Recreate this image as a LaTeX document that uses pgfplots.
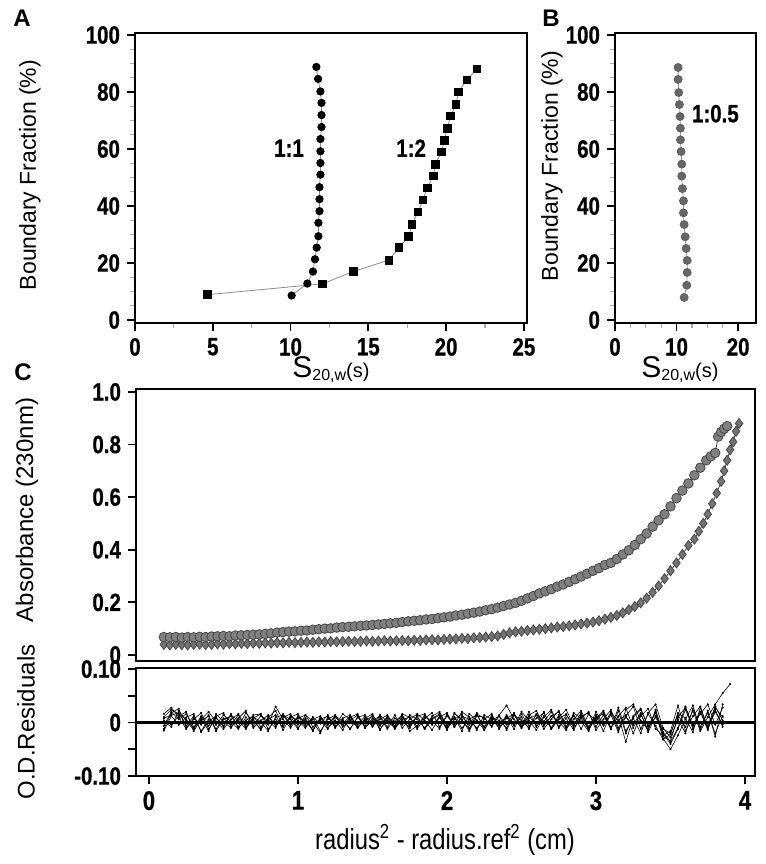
\documentclass[border=0pt]{standalone}
\usepackage{fontspec}
\setmainfont{Liberation Sans}
\newfontfamily\narrowfont[FakeStretch=0.82]{Liberation Sans}
\newfontfamily\heavyfont[FakeStretch=0.82,FakeBold=0.6]{Liberation Sans Bold}
\usepackage{pgfplots}
\usepackage{pgfplotstable}
\pgfplotsset{compat=1.18}

\pgfplotstableread{
x c1 c2 c3 c4 c5 c6 c7 c8
0.10 0.010 -0.012 0.004 -0.015 0.016 0.002 -0.006 0.008
0.15 0.024 0.018 -0.004 0.012 0.028 -0.008 0.020 0.014
0.20 0.016 0.026 0.012 -0.004 0.010 0.022 0.006 0.018
0.25 0.006 -0.010 0.020 0.010 -0.012 0.004 0.016 -0.006
0.30 -0.010 0.008 -0.016 0.016 0.006 -0.014 -0.008 0.012
0.35 0.012 -0.004 0.006 -0.018 0.018 0.010 0.004 -0.016
0.40 -0.006 0.014 0.020 0.002 -0.012 -0.016 0.012 0.006
0.45 0.010 -0.016 0.002 0.012 0.008 0.016 -0.012 -0.004
0.50 -0.008 0.006 -0.012 0.018 -0.006 0.002 0.008 0.014
0.55 0.014 0.012 0.006 -0.008 0.016 -0.010 -0.004 0.002
0.60 0.004 -0.008 0.016 0.008 -0.010 0.008 0.014 -0.012
0.65 -0.012 0.018 -0.010 0.022 0.004 -0.004 -0.008 0.010
0.70 0.008 0.002 0.010 -0.010 0.012 0.014 0.006 -0.006
0.75 0.016 -0.012 0.002 0.004 -0.008 0.016 -0.014 0.012
0.80 -0.004 0.010 -0.016 0.014 0.006 -0.012 0.010 0.004
0.85 0.030 -0.004 0.010 -0.006 0.014 0.006 0.022 -0.010
0.90 0.006 0.014 0.014 0.010 -0.014 -0.008 -0.006 0.016
0.95 -0.010 0.006 -0.006 0.016 0.010 0.012 0.012 -0.004
1.00 0.010 -0.012 0.012 -0.004 0.016 0.004 -0.010 0.008
1.05 0.002 0.014 -0.008 0.008 -0.004 -0.010 0.006 0.014
1.10 -0.014 0.002 0.006 -0.014 0.010 0.010 -0.016 -0.008
1.15 0.008 -0.020 0.012 0.006 -0.016 -0.002 0.010 0.004
1.20 -0.004 0.010 -0.010 0.012 0.006 0.014 -0.004 -0.012
1.25 0.012 -0.006 0.004 -0.010 0.014 -0.008 0.012 0.010
1.30 0.004 0.016 -0.014 0.008 -0.006 0.006 -0.008 -0.002
1.35 -0.012 0.006 0.010 0.014 0.010 -0.012 0.004 0.012
1.40 0.010 -0.010 -0.004 -0.008 0.016 0.010 0.014 -0.010
1.45 0.014 0.008 0.012 0.004 -0.010 -0.006 -0.010 0.006
1.50 -0.006 0.016 -0.008 0.012 0.004 0.014 0.008 -0.006
1.55 0.006 -0.012 0.010 -0.014 0.012 -0.004 -0.006 0.014
1.60 0.014 0.004 -0.012 0.010 -0.008 0.008 0.012 0.002
1.65 -0.008 -0.006 0.008 0.002 0.014 -0.010 -0.012 -0.010
1.70 0.004 0.016 -0.004 0.014 -0.010 0.012 0.006 0.010
1.75 -0.010 0.010 0.014 -0.008 0.006 -0.016 0.010 -0.004
1.80 0.012 -0.012 0.006 0.012 0.016 -0.006 -0.008 0.012
1.85 0.016 0.008 -0.010 -0.012 0.004 0.010 0.014 -0.012
1.90 -0.004 0.018 0.012 0.006 -0.014 0.004 -0.004 0.008
1.95 0.010 -0.008 0.020 0.014 0.010 -0.012 0.010 0.016
2.00 -0.014 0.012 -0.006 -0.010 0.018 0.016 -0.012 -0.006
2.05 0.016 -0.004 0.010 0.018 -0.008 -0.008 0.006 0.010
2.10 0.006 0.020 -0.016 0.004 0.012 0.010 0.016 -0.010
2.15 -0.016 0.010 0.016 -0.012 0.006 -0.004 -0.010 0.006
2.20 0.012 -0.014 0.004 0.016 -0.010 0.018 0.004 0.014
2.25 0.010 0.014 -0.014 0.008 0.006 -0.014 -0.008 -0.008
2.30 -0.008 0.006 0.012 -0.006 0.016 0.008 0.012 0.004
2.35 0.014 -0.010 -0.004 0.012 -0.012 0.004 -0.006 0.012
2.40 0.032 0.012 0.010 -0.014 0.008 -0.010 0.014 -0.004
2.45 0.006 -0.006 -0.012 0.014 0.016 0.014 -0.004 0.018
2.50 -0.010 0.020 0.016 0.004 -0.008 -0.006 0.010 -0.010
2.55 0.014 0.004 -0.006 -0.010 0.012 0.020 -0.012 0.008
2.60 0.022 -0.014 0.008 0.016 -0.006 -0.008 0.016 0.014
2.65 -0.006 0.010 0.018 -0.006 0.020 0.012 0.002 -0.012
2.70 0.012 0.024 -0.010 0.012 -0.012 -0.012 0.020 0.006
2.75 0.002 -0.008 0.014 0.020 0.010 0.006 -0.010 0.022
2.80 -0.014 0.014 -0.012 -0.008 0.024 0.016 0.008 -0.008
2.85 0.018 -0.004 0.006 0.014 -0.006 -0.010 -0.014 0.012
2.90 0.008 0.018 0.022 -0.012 0.014 0.008 0.012 0.002
2.95 -0.012 -0.012 -0.008 0.016 -0.014 0.020 0.018 -0.016
3.00 0.020 0.008 0.012 0.004 0.010 -0.014 -0.008 0.014
3.05 -0.004 0.022 -0.016 0.020 0.016 0.006 0.014 -0.006
3.10 0.014 -0.010 0.018 -0.010 -0.012 0.024 -0.012 0.020
3.15 -0.018 0.012 0.004 0.012 0.028 -0.010 0.022 -0.014
3.20 0.024 -0.036 0.014 0.028 -0.016 0.012 -0.020 0.010
3.25 0.034 0.010 -0.020 -0.010 0.008 0.030 0.012 -0.004
3.30 0.004 0.024 0.012 0.016 -0.020 -0.012 0.026 0.018
3.35 -0.014 -0.006 0.026 -0.014 0.018 0.016 -0.008 -0.018
3.40 0.022 0.018 -0.012 0.024 0.034 -0.006 0.010 0.012
3.45 -0.026 -0.030 -0.024 -0.020 -0.010 -0.032 -0.018 -0.012
3.50 -0.034 -0.050 -0.016 -0.040 -0.028 -0.022 -0.036 -0.020
3.55 0.010 -0.024 0.032 -0.012 0.006 0.018 -0.010 0.014
3.60 0.028 0.006 -0.016 0.024 -0.020 0.008 0.030 -0.008
3.65 -0.012 0.032 0.012 -0.006 0.026 -0.018 -0.006 0.022
3.70 0.020 -0.014 0.030 0.016 -0.008 0.028 0.020 -0.016
3.75 -0.006 0.022 -0.010 0.034 0.018 -0.012 -0.014 0.010
3.80 0.030 -0.026 0.024 -0.004 -0.020 0.020 0.028 0.034
3.85 0.004 0.034 -0.008 0.028 0.012 -0.004 0.010 0.055
3.90 nan nan nan nan nan nan nan 0.072
}\resid

\pgfplotstableread{
x y
0.10 0.068
0.14 0.067
0.18 0.068
0.22 0.066
0.26 0.068
0.30 0.067
0.34 0.069
0.38 0.068
0.42 0.070
0.46 0.071
0.50 0.072
0.54 0.071
0.58 0.074
0.62 0.075
0.66 0.076
0.70 0.077
0.74 0.078
0.78 0.080
0.82 0.082
0.86 0.085
0.90 0.087
0.94 0.089
0.98 0.090
1.02 0.092
1.06 0.093
1.10 0.096
1.14 0.098
1.18 0.100
1.22 0.101
1.26 0.104
1.30 0.106
1.34 0.107
1.38 0.109
1.42 0.111
1.46 0.112
1.50 0.114
1.54 0.116
1.58 0.118
1.62 0.120
1.66 0.122
1.70 0.125
1.74 0.128
1.78 0.130
1.82 0.132
1.86 0.135
1.90 0.137
1.94 0.140
1.98 0.143
2.02 0.146
2.06 0.150
2.10 0.153
2.14 0.157
2.18 0.161
2.22 0.165
2.26 0.170
2.30 0.174
2.34 0.180
2.38 0.186
2.42 0.192
2.46 0.198
2.50 0.206
2.54 0.215
2.58 0.224
2.62 0.234
2.66 0.242
2.70 0.250
2.74 0.260
2.78 0.268
2.82 0.278
2.86 0.288
2.90 0.298
2.94 0.309
2.98 0.320
3.02 0.330
3.06 0.342
3.10 0.350
3.14 0.365
3.18 0.382
3.22 0.398
3.26 0.418
3.30 0.440
3.34 0.462
3.38 0.488
3.42 0.512
3.46 0.535
3.50 0.565
3.54 0.596
3.58 0.625
3.62 0.652
3.66 0.683
3.70 0.712
3.74 0.740
3.77 0.755
3.80 0.768
3.82 0.830
3.84 0.848
3.86 0.860
3.88 0.870
}\circdata

\pgfplotstableread{
x y
0.10 0.040
0.14 0.038
0.18 0.040
0.22 0.039
0.26 0.038
0.30 0.040
0.34 0.041
0.38 0.039
0.42 0.040
0.46 0.042
0.50 0.041
0.54 0.043
0.58 0.042
0.62 0.044
0.66 0.043
0.70 0.045
0.74 0.044
0.78 0.046
0.82 0.045
0.86 0.047
0.90 0.046
0.94 0.048
0.98 0.047
1.02 0.048
1.06 0.049
1.10 0.048
1.14 0.050
1.18 0.049
1.22 0.051
1.26 0.050
1.30 0.051
1.34 0.052
1.38 0.051
1.42 0.052
1.46 0.053
1.50 0.052
1.54 0.053
1.58 0.054
1.62 0.053
1.66 0.054
1.70 0.055
1.74 0.054
1.78 0.056
1.82 0.055
1.86 0.057
1.90 0.058
1.94 0.057
1.98 0.059
2.02 0.060
2.06 0.061
2.10 0.063
2.14 0.062
2.18 0.065
2.22 0.066
2.26 0.068
2.30 0.070
2.34 0.072
2.38 0.078
2.42 0.084
2.46 0.088
2.50 0.090
2.54 0.093
2.58 0.095
2.62 0.098
2.66 0.100
2.70 0.103
2.74 0.106
2.78 0.108
2.82 0.111
2.86 0.114
2.90 0.118
2.94 0.121
2.98 0.125
3.02 0.130
3.06 0.136
3.10 0.143
3.14 0.150
3.18 0.160
3.22 0.172
3.26 0.184
3.30 0.198
3.34 0.216
3.38 0.238
3.42 0.262
3.46 0.290
3.50 0.320
3.54 0.350
3.58 0.382
3.62 0.416
3.66 0.440
3.69 0.470
3.72 0.500
3.75 0.535
3.78 0.575
3.81 0.615
3.84 0.660
3.86 0.700
3.88 0.740
3.90 0.780
3.92 0.810
3.94 0.850
3.96 0.880
}\diamdata

\pgfplotsset{
  panel/.style={
    scale only axis,
    axis line style={line width=1.1pt},
    tick align=outside,
    xtick pos=left, ytick pos=left,
    major tick length=4pt, minor tick length=2.5pt,
    major tick style={black, line width=0.9pt},
    minor tick style={black!35, line width=0.6pt},
    tick label style={font=\heavyfont\fontsize{12.5}{12.5}\selectfont},
    /pgf/number format/assume math mode=true,
    clip=false,
  },
}

\begin{document}
\begin{tikzpicture}
\useasboundingbox (0,0) rectangle (383pt,-432pt);

% ---------------- Panel A ----------------
\begin{axis}[panel,
  at={(67.5pt,-16.5pt)}, anchor=north west,
  width=196pt, height=145pt,
  xmin=0, xmax=25.2, ymin=-1.05, ymax=100.7,
  xtick={0,5,10,15,20,25}, xticklabels={0,5,10,15,20,25},
  ytick={0,20,40,60,80,100}, yticklabels={0,20,40,60,80,100},
  minor x tick num=1, minor y tick num=3,
]
\addplot[black!45, line width=0.4pt, mark=*, mark size=1.85pt, mark options={black, fill=black}] coordinates {
(10.07,8.6) (11.08,12.8) (11.44,17.0) (11.57,21.3) (11.68,25.4) (11.79,29.4) (11.79,34.1) (11.86,38.2) (11.86,42.4) (11.86,46.6) (11.92,51.0) (11.92,55.1) (11.92,59.2) (11.92,63.5) (11.99,67.7) (11.99,71.9) (11.99,76.2) (11.92,80.2) (11.77,84.6) (11.66,88.8)
};
\addplot[black!45, line width=0.4pt, mark=square*, mark size=1.9pt, mark options={black, fill=black}] coordinates {
(4.67,8.9) (12.06,12.7) (14.03,17.0) (16.31,21.0) (16.97,25.4) (17.59,29.3) (17.81,33.6) (18.19,37.9) (18.52,42.2) (18.78,46.3) (19.18,50.6) (19.31,54.7) (19.71,59.0) (19.89,63.1) (20.07,67.2) (20.29,71.6) (20.64,75.6) (20.80,80.0) (21.33,84.3) (21.99,88.1)
};
\node[font=\heavyfont\fontsize{12.5}{12.5}\selectfont] at (axis cs:9.9,60.3) {1:1};
\node[font=\heavyfont\fontsize{12.5}{12.5}\selectfont] at (axis cs:17.75,60.3) {1:2};
\end{axis}

% ---------------- Panel B ----------------
\begin{axis}[panel,
  at={(307.5pt,-16.5pt)}, anchor=north west,
  width=70.5pt, height=145pt,
  xmin=0, xmax=22.9, ymin=-1.05, ymax=100.7,
  xtick={0,10,20}, xticklabels={0,10,20},
  ytick={0,20,40,60,80,100}, yticklabels={0,20,40,60,80,100},
  minor x tick num=3, minor y tick num=3,
]
\addplot[black!40, line width=0.4pt, mark=*, mark size=2pt, mark options={draw=black!62, fill=black!60}] coordinates {
(10.25,88.6) (10.25,84.4) (10.35,79.8) (10.46,75.6) (10.57,71.4) (10.63,67.3) (10.63,63.2) (10.74,59.1) (10.84,54.7) (10.84,50.5) (10.95,46.1) (11.12,41.8) (11.12,37.6) (11.23,33.5) (11.39,29.2) (11.55,25.1) (11.72,20.9) (11.72,16.7) (11.66,12.2) (11.23,7.9)
};
\node[font=\heavyfont\fontsize{12.5}{12.5}\selectfont] at (axis cs:16.3,72.4) {1:0.5};
\end{axis}

% ---------------- Panel C (top) ----------------
\begin{axis}[panel,
  at={(68pt,-194.5pt)}, anchor=north west,
  width=309.5pt, height=136pt,
  xmin=-0.087, xmax=4.067, ymin=-0.023, ymax=1.011,
  xtick=\empty,
  ytick={0,0.2,0.4,0.6,0.8,1.0}, yticklabels={0,0.2,0.4,0.6,0.8,1.0},
]
\addplot[black!75, line width=0.4pt, mark=diamond*, mark size=2.5pt, mark options={draw=black!72, fill=black!55, line width=0.4pt}] table[x=x,y=y] {\diamdata};
\addplot[black!75, line width=0.4pt, mark=*, mark size=2.4pt, mark options={draw=black!72, fill=black!50, line width=0.4pt}] table[x=x,y=y] {\circdata};
\end{axis}

% ---------------- Panel C (residuals) ----------------
\begin{axis}[panel,
  at={(68pt,-334pt)}, anchor=north west,
  width=309.5pt, height=54pt,
  xmin=-0.087, xmax=4.067, ymin=-0.1, ymax=0.102,
  xtick={0,1,2,3,4}, xticklabels={0,1,2,3,4},
  ytick={-0.1,-0.05,0,0.05,0.1}, yticklabels={-0.10,,0,,0.10},
  x tick label style={font=\heavyfont\fontsize{13.5}{13.5}\selectfont},
]
\pgfplotsinvokeforeach{c1,c2,c3,c4,c5,c6,c7,c8}{
  \addplot[black, line width=0.3pt, mark=*, mark size=0.35pt] table[x=x,y=#1] {\resid};
}
\draw[black, line width=1.1pt] (axis cs:-0.087,0) -- (axis cs:4.067,0);
\end{axis}

% ---------------- Labels ----------------
\node[font=\fontsize{12}{12}\selectfont\bfseries] at (11pt,-9pt) {A};
\node[font=\fontsize{12}{12}\selectfont\bfseries] at (275.5pt,-9pt) {B};
\node[font=\fontsize{12}{12}\selectfont\bfseries] at (11.5pt,-186pt) {C};

\node[rotate=90, font=\fontsize{11.5}{11.5}\selectfont] at (15pt,-87.5pt) {Boundary Fraction (\%)};
\node[rotate=90, font=\fontsize{11.5}{11.5}\selectfont] at (276pt,-83pt) {Boundary Fraction (\%)};
\node[rotate=90, font=\fontsize{12}{12}\selectfont] at (13.5pt,-255pt) {Absorbance (230nm)};
\node[rotate=90, font=\fontsize{12}{12}\selectfont] at (13pt,-361pt) {O.D.Residuals};

\node[anchor=base, inner sep=0pt] at (165.5pt,-188.5pt) {{\fontsize{15}{15}\selectfont S}{\fontsize{8}{8}\selectfont\raisebox{-1.5pt}{20,w}}{\fontsize{10}{10}\selectfont(s)}};
\node[anchor=base, inner sep=0pt] at (340pt,-188.5pt) {{\fontsize{15}{15}\selectfont S}{\fontsize{8}{8}\selectfont\raisebox{-1.5pt}{20,w}}{\fontsize{10}{10}\selectfont(s)}};

\node[font=\narrowfont\fontsize{14.5}{14.5}\selectfont] at (222.5pt,-420pt) {radius\textsuperscript{2} - radius.ref\textsuperscript{2} (cm)};
\end{tikzpicture}
\end{document}
